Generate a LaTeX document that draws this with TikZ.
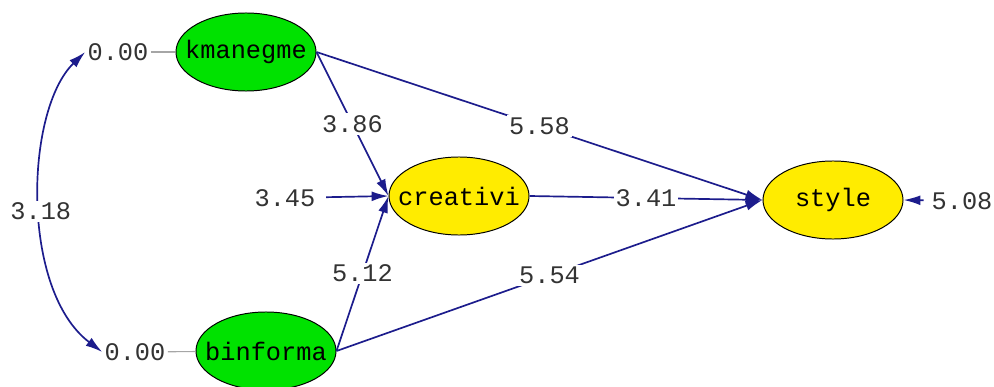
\documentclass[tikz,border=0pt]{standalone}
\usepackage{fontspec}
\setmonofont{Liberation Mono}
\usetikzlibrary{shapes.geometric,arrows.meta}

\definecolor{pathblue}{RGB}{28,28,140}
\definecolor{exgreen}{RGB}{0,226,0}
\definecolor{enyellow}{RGB}{255,236,0}

\newcommand{\lvname}[1]{\makebox[0pt]{#1}}

\tikzset{
  latent/.style={ellipse, draw=black, line width=0.7pt, inner sep=0pt,
    minimum width=3.5cm, minimum height=1.95cm, text=black},
  coef/.style={fill=white, inner sep=1.5pt, text=black!80},
  effect/.style={draw=pathblue, line width=1.2pt, ->},
  fixed/.style={draw=black!35, line width=0.8pt},
}

\begin{document}
\begin{tikzpicture}[x=0.025cm, y=-0.025cm,
    >={Latex[length=12pt,width=7pt]},
    font=\ttfamily\fontsize{18}{20}\selectfont]
    \useasboundingbox (0,0) rectangle (994,387);

    % latent variables
    \node[latent, fill=exgreen] (kman) at (246,52) {\lvname{kmanegme}};
    \node[latent, fill=exgreen] (binf) at (266,351) {\lvname{binforma}};
    \node[latent, fill=enyellow] (crea) at (459,196) {\lvname{creativi}};
    \node[latent, fill=enyellow] (styl) at (833,200) {\lvname{style}};

    % variances and error terms
    \node[coef] (k0) at (118,52) {0.00};
    \node[coef] (b0) at (135,352) {0.00};
    \node[coef] (e3) at (285,198) {3.45};
    \node[coef] (e5) at (962,201) {5.08};

    \draw[fixed] (k0) -- (kman);
    \draw[fixed] (b0) -- (binf);
    \draw[effect, shorten <=6pt] (e3) -- (crea.west);
    \draw[effect, shorten <=4pt] (e5) -- (styl.east);

    % covariance
    \draw[effect, <->] (k0.west) .. controls (25,110) and (20,290) .. (b0.west)
      node[coef, pos=0.53] {3.18};

    % paths
    \draw[effect] (kman.east) -- node[coef, pos=0.5] {3.86} (crea.west);
    \draw[effect] (binf.east) -- node[coef, pos=0.5] {5.12} (crea.west);
    \draw[effect] (kman.east) -- node[coef, pos=0.5] {5.58} (styl.west);
    \draw[effect] (binf.east) -- node[coef, pos=0.5] {5.54} (styl.west);
    \draw[effect] (crea.east) -- node[coef, pos=0.5] {3.41} (styl.west);
\end{tikzpicture}
\end{document}
